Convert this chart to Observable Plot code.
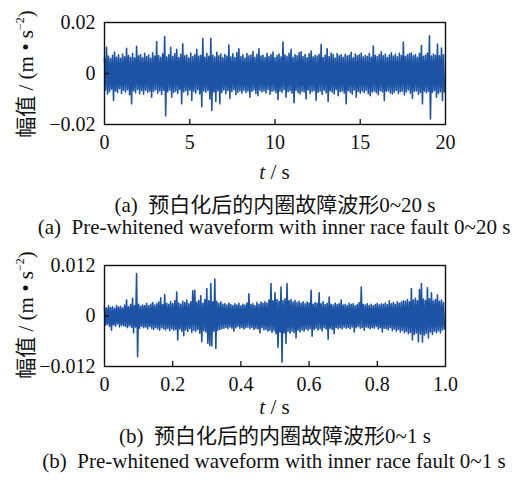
<!DOCTYPE html>
<html>
<head>
<meta charset="utf-8">
<script src="https://cdn.jsdelivr.net/npm/d3@7"></script>
<script src="https://cdn.jsdelivr.net/npm/@observablehq/plot@0.6"></script>
<style>
  body { margin: 0; background: #fff; }
  #root { position: relative; width: 515px; height: 480px; font-family: "Liberation Serif", "Noto Sans CJK SC", serif; color: #111; }
  #root svg text { font-family: "Liberation Serif", serif !important; font-size: 20px !important; fill: #111; }
  .t { position: absolute; transform: translate(-50%, -50%); white-space: nowrap; font-size: 21px; line-height: 1; font-family: "Liberation Serif", "Noto Sans CJK SC", serif; }
  .yl { position: absolute; transform: translate(-50%, -50%) rotate(-90deg); white-space: nowrap; font-size: 21px; line-height: 1; font-family: "Liberation Serif", "Noto Sans CJK SC", serif; }
  .yl sup { font-size: 12px; vertical-align: 9px; }
  .zh { font-family: "Liberation Serif", "Noto Sans CJK SC", serif; }
</style>
</head>
<body>
<div id="root"></div>
<script>
// Panel (a): 0~20 s, per-bin maximum / minimum amplitude (unit 1e-3 m·s^-2)
const xTicksA = [0, 5, 10, 15, 20];
const yTicksA = [-0.02, 0, 0.02];
const hiA = [
  6.2, 10.3, 6.8, 5.9, 7.1, 8.4, 6.4, 7.3, 6.0, 7.6,
  6.5, 9.9, 7.0, 6.3, 7.8, 6.1, 10.7, 6.9, 7.4, 6.2,
  7.9, 6.6, 7.2, 6.0, 8.1, 6.8, 12.5, 7.0, 6.4, 7.7,
  14.5, 6.5, 7.3, 10.3, 6.7, 7.8, 9.5, 6.3, 7.5, 11.6,
  6.9, 7.2, 6.1, 8.0, 6.6, 7.4, 9.5, 6.8, 7.1, 13.7,
  6.4, 7.9, 6.7, 13.8, 7.2, 6.5, 8.3, 6.9, 7.6, 6.2,
  7.4, 6.8, 11.2, 6.5, 7.7, 6.3, 8.2, 9.7, 6.6, 7.3,
  6.1, 7.8, 6.9, 7.2, 8.6, 6.4, 7.5, 9.7, 6.8, 7.1,
  6.3, 7.9, 6.6, 7.4, 8.4, 6.2, 7.0, 7.6, 6.5, 12.3,
  7.2, 6.7, 7.9, 9.5, 6.4, 7.3, 6.9, 8.1, 8.5, 6.6,
  7.4, 6.2, 7.7, 8.8, 6.5, 7.1, 6.8, 7.5, 11.4, 6.3,
  7.2, 9.7, 6.6, 8.0, 7.4, 6.1, 7.8, 6.9, 7.3, 6.4,
  7.5, 6.8, 7.1, 8.3, 6.2, 7.6, 6.9, 7.3, 8.0, 6.5,
  7.0, 6.7, 7.8, 6.4, 10.8, 7.1, 6.6, 7.4, 8.5, 6.9,
  7.6, 6.3, 7.2, 8.1, 6.8, 7.5, 6.5, 7.9, 7.0, 12.3,
  6.6, 7.3, 7.7, 8.0, 6.9, 7.4, 6.4, 7.8, 11.0, 6.7,
  7.2, 7.9, 14.8, 6.8, 7.6, 7.1, 11.5, 6.9, 10.0, 7.3
];
const loA = [
  -6.5, -8.0, -7.1, -6.2, -10.6, -6.9, -7.4, -6.0, -7.8, -6.6,
  -7.2, -6.4, -8.3, -11.9, -6.8, -7.5, -6.3, -7.9, -6.7, -8.1,
  -6.5, -7.3, -6.9, -9.3, -7.0, -6.4, -7.7, -6.8, -8.2, -6.6,
  -16.6, -7.1, -6.5, -9.3, -7.4, -6.9, -7.8, -6.3, -11.9, -7.2,
  -6.7, -8.4, -6.5, -10.6, -7.0, -7.6, -6.4, -8.0, -13.0, -6.9,
  -7.3, -6.6, -10.0, -14.5, -7.2, -11.0, -6.8, -11.9, -7.5, -6.5,
  -7.9, -6.7, -9.8, -7.1, -6.4, -8.2, -7.3, -6.8, -7.7, -6.6,
  -7.4, -6.9, -9.3, -7.0, -6.5, -7.8, -8.7, -6.6, -7.2, -6.8,
  -7.6, -6.3, -8.1, -7.0, -6.7, -7.5, -10.3, -6.9, -7.3, -6.4,
  -9.3, -7.1, -6.8, -7.7, -11.5, -6.6, -7.4, -8.0, -6.9, -7.2,
  -10.0, -6.5, -7.8, -7.0, -6.7, -10.5, -7.3, -6.9, -8.2, -6.6,
  -7.5, -11.0, -6.8, -7.2, -8.0, -6.4, -8.7, -7.1, -6.9, -7.6,
  -11.9, -6.7, -7.3, -8.1, -6.5, -9.3, -7.0, -7.7, -6.8, -7.4,
  -6.6, -7.9, -8.7, -7.2, -6.9, -7.5, -8.3, -6.7, -7.1, -10.6,
  -7.0, -6.8, -7.6, -8.0, -7.3, -6.6, -7.8, -7.1, -6.9, -8.4,
  -7.2, -6.5, -7.7, -9.8, -7.0, -6.8, -8.1, -7.4, -11.9, -6.9,
  -7.5, -7.0, -17.8, -7.3, -6.7, -9.3, -7.8, -7.1, -10.6, -7.2
];

// Panel (b): 0~1 s, per-bin maximum / minimum amplitude (unit 1e-3 m·s^-2)
const xTicksB = [0, 0.2, 0.4, 0.6, 0.8, 1.0];
const yTicksB = [-0.012, 0, 0.012];
const hiB = [
  2.1, 1.9, 2.4, 2.0, 2.2, 1.8, 2.5, 2.1, 2.3, 1.9,
  2.6, 3.8, 2.2, 2.7, 4.2, 2.4, 10.1, 2.8, 2.3, 2.6,
  2.5, 3.0, 2.4, 2.8, 3.2, 2.6, 2.9, 3.3, 4.3, 2.7,
  5.1, 3.0, 2.8, 3.4, 2.9, 3.6, 5.7, 3.1, 2.8, 3.5,
  3.2, 3.8, 2.9, 3.4, 6.0, 6.1, 3.3, 3.7, 4.8, 3.0,
  3.9, 6.5, 3.6, 7.7, 3.4, 8.8, 3.5, 3.0, 3.3, 2.8,
  2.9, 2.6, 3.1, 2.7, 2.5, 2.9, 2.6, 3.0, 2.4, 2.8,
  2.6, 3.1, 5.3, 2.7, 2.9, 2.5, 3.2, 2.8, 3.3, 3.0,
  3.4, 3.1, 3.8, 7.7, 3.6, 5.5, 3.9, 3.5, 6.9, 3.7,
  4.1, 7.7, 3.6, 3.9, 3.3, 3.7, 3.2, 3.5, 3.0, 3.4,
  2.9, 3.3, 3.1, 6.1, 2.8, 3.2, 3.0, 5.5, 2.9, 3.4,
  2.7, 3.0, 4.5, 2.8, 2.6, 3.1, 2.7, 2.9, 3.8, 2.6,
  2.8, 2.5, 3.0, 2.7, 2.9, 2.4, 2.8, 3.2, 6.9, 2.7,
  2.6, 2.9, 2.5, 2.8, 2.4, 2.7, 3.0, 2.6, 2.9, 2.8,
  3.1, 2.7, 3.6, 2.9, 3.2, 2.8, 3.4, 3.0, 3.3, 3.6,
  3.5, 3.9, 3.4, 6.5, 3.8, 4.2, 3.6, 6.3, 7.7, 4.0,
  3.7, 6.7, 4.1, 5.5, 3.6, 3.9, 5.0, 3.5, 3.8, 3.2
];
const loB = [
  -2.2, -2.0, -2.5, -3.4, -2.1, -2.4, -1.9, -2.6, -2.2, -2.3,
  -2.5, -2.8, -2.3, -2.7, -4.0, -2.6, -9.7, -2.9, -2.4, -2.8,
  -2.6, -3.1, -2.5, -2.9, -3.2, -2.7, -3.0, -3.4, -2.8, -3.1,
  -3.3, -2.9, -3.5, -3.0, -3.4, -3.2, -5.7, -3.1, -3.6, -4.7,
  -3.3, -3.7, -3.0, -3.9, -3.4, -3.6, -3.2, -4.1, -6.1, -3.5,
  -3.8, -6.5, -7.0, -7.1, -3.6, -7.7, -3.4, -3.2, -3.0, -2.9,
  -2.7, -3.0, -2.6, -2.9, -3.6, -2.8, -2.5, -2.9, -2.7, -3.1,
  -2.8, -2.6, -3.0, -2.7, -3.2, -2.9, -3.1, -4.0, -2.8, -3.3,
  -3.2, -3.6, -3.4, -3.9, -3.5, -4.2, -7.4, -3.8, -11.0, -4.0,
  -6.5, -3.7, -4.1, -3.6, -3.9, -5.2, -3.4, -3.8, -3.3, -3.6,
  -3.1, -3.4, -3.0, -4.8, -3.2, -2.9, -3.3, -3.0, -3.5, -2.8,
  -3.1, -5.5, -2.9, -3.2, -4.2, -2.7, -3.0, -2.8, -3.1, -2.6,
  -2.9, -2.7, -3.0, -2.6, -3.8, -2.8, -2.5, -2.9, -2.7, -3.4,
  -2.6, -2.8, -3.0, -2.7, -2.9, -2.5, -3.1, -2.8, -3.8, -2.9,
  -3.0, -3.3, -2.8, -3.5, -3.1, -3.6, -3.2, -3.8, -3.4, -4.0,
  -3.7, -4.2, -3.9, -5.7, -4.4, -4.0, -6.1, -4.3, -6.2, -4.5,
  -4.1, -5.2, -3.8, -4.4, -3.6, -4.0, -3.5, -4.0, -3.3, -3.1
];

const captions = {
  a: ["(a)\u2002预白化后的内圈故障波形0~20 s", "(a)\u2002Pre-whitened waveform with inner race fault 0~20 s"],
  b: ["(b)\u2002预白化后的内圈故障波形0~1 s", "(b)\u2002Pre-whitened waveform with inner race fault 0~1 s"]
};

const BLUE = "#1d53a5";

function series(hi, lo, tMax) {
  const n = hi.length, dt = tMax / n, out = [];
  for (let i = 0; i < n; i++) {
    out.push({t: i * dt, v: hi[i] / 1000});
    out.push({t: (i + 0.5) * dt, v: lo[i] / 1000});
  }
  return out;
}

const fmtY = d => d === 0 ? "0" : (d < 0 ? "\u2212" : "") + String(Math.abs(d));

function panel({hi, lo, tMax, xTicks, yTicks, xFmt, height, marginBottom}) {
  const data = series(hi, lo, tMax);
  return Plot.plot({
    width: 515,
    height,
    marginLeft: 104,
    marginRight: 70,
    marginTop: 22,
    marginBottom,
    style: {fontFamily: "'Liberation Serif', serif", fontSize: "20px", color: "#111", background: "transparent"},
    x: {domain: [0, tMax]},
    y: {domain: [yTicks[0], yTicks[2]]},
    marks: [
      Plot.line(data, {x: "t", y: "v", stroke: BLUE, strokeWidth: 1.6, strokeLinejoin: "round"}),
      Plot.tickX(xTicks.slice(1, -1), {x: d => d, insetTop: height - 22 - marginBottom - 5, stroke: "#111", strokeWidth: 1.3}),
      Plot.tickY(yTicks.slice(1, -1), {y: d => d, insetRight: 515 - 104 - 70 - 5, stroke: "#111", strokeWidth: 1.3}),
      Plot.frame({stroke: "#111", strokeWidth: 1.4}),
      Plot.axisX({ticks: xTicks, tickSize: 0, tickPadding: 10, tickFormat: xFmt, label: null}),
      Plot.axisY({ticks: yTicks, tickSize: 0, tickPadding: 9, tickFormat: fmtY, label: null})
    ]
  });
}

const root = document.getElementById("root");

function place(el, top) {
  el.style.position = "absolute";
  el.style.left = "0px";
  el.style.top = top + "px";
  root.appendChild(el);
}
function text(html, x, y, cls) {
  const d = document.createElement("div");
  d.className = cls;
  d.innerHTML = html;
  d.style.left = x + "px";
  d.style.top = y + "px";
  root.appendChild(d);
}

place(panel({hi: hiA, lo: loA, tMax: 20, xTicks: xTicksA, yTicks: yTicksA, xFmt: d => String(d), height: 160, marginBottom: 36}), 0);
place(panel({hi: hiB, lo: loB, tMax: 1, xTicks: xTicksB, yTicks: yTicksB, xFmt: d => d === 0 ? "0" : d.toFixed(1), height: 160, marginBottom: 37}), 243);

const yLabel = "<span class='zh'>幅值</span> / (m • s<sup>\u22122</sup>)";
text(yLabel, 25, 74, "yl");
text(yLabel, 25, 315, "yl");

text("<i>t</i> / s", 274.5, 172, "t");
text(captions.a[0], 275, 205, "t zh");
text(captions.a[1], 274, 227, "t");

text("<i>t</i> / s", 274.5, 407, "t");
text(captions.b[0], 275, 436, "t zh");
text(captions.b[1], 274, 461, "t");
</script>
</body>
</html>
